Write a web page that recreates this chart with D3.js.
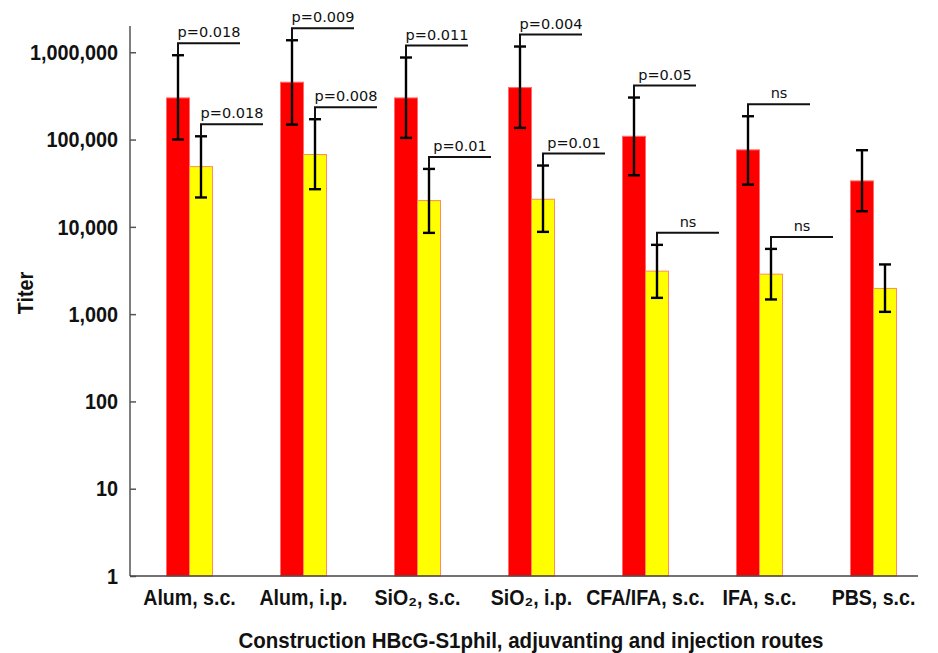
<!DOCTYPE html>
<html>
<head>
<meta charset="utf-8">
<script src="https://cdn.jsdelivr.net/npm/d3@7"></script>
<style>
  html, body { margin: 0; padding: 0; background: #fff; }
  svg { display: block; }
</style>
</head>
<body>
<svg id="chart" width="938" height="653"></svg>
<script>
// ---- data ----
const categories = ["Alum, s.c.", "Alum, i.p.", "SiO₂, s.c.", "SiO₂, i.p.", "CFA/IFA, s.c.", "IFA, s.c.", "PBS, s.c."];
const series = ["red", "yellow"];
const redValues    = [300000, 454000, 300000, 394000, 109000, 76200, 33600];
const redHigh      = [925000, 1373000, 871000, 1164000, 303000, 185000, 75500];
const redLow       = [100000, 148600, 104500, 136000, 39000, 30500, 15100];
const yellowValues = [49000, 67400, 20000, 20700, 3110, 2870, 1970];
const yellowHigh   = [109000, 171000, 46100, 50400, 6220, 5590, 3710];
const yellowLow    = [21700, 27000, 8530, 8760, 1537, 1473, 1062];
const redPLabels    = ["p=0.018", "p=0.009", "p=0.011", "p=0.004", "p=0.05", "ns", null];
const yellowPLabels = ["p=0.018", "p=0.008", "p=0.01", "p=0.01", "ns", "ns", null];
const yTicks = [1, 10, 100, 1000, 10000, 100000, 1000000];
const yTitle = "Titer";
const xTitle = "Construction HBcG-S1phil, adjuvanting and injection routes";

// ---- layout ----
const svg = d3.select("#chart");
const axisX = 130, axisBottom = 576, axisTop = 26, axisRight = 918;
const boldFont = "'Liberation Sans', Arial, sans-serif";

function condense(sel, k) {
  sel.each(function () {
    const w = this.getComputedTextLength();
    d3.select(this).attr("textLength", w * k).attr("lengthAdjust", "spacingAndGlyphs");
  });
}

const x = d3.scaleBand().domain(categories).range([132.5, 930.5]).padding(0);
const barW = 23;
const xs = d3.scaleBand().domain(series)
  .range([x.bandwidth() / 2 - barW, x.bandwidth() / 2 + barW]).padding(0);
const y = d3.scaleLog().domain([1, 2e6]).range([axisBottom, axisTop]);

const colors = { red: "#ff0000", yellow: "#ffff00" };
const strokes = { red: "#ff6a6a", yellow: "#ff8c5a" };

const rows = [];
categories.forEach((c, i) => {
  rows.push({ cat: c, s: "red", v: redValues[i], hi: redHigh[i], lo: redLow[i], p: redPLabels[i] });
  rows.push({ cat: c, s: "yellow", v: yellowValues[i], hi: yellowHigh[i], lo: yellowLow[i], p: yellowPLabels[i] });
});
const cx = d => x(d.cat) + xs(d.s) + xs.bandwidth() / 2;

// bars
svg.append("g").selectAll("rect").data(rows).join("rect")
  .attr("x", d => x(d.cat) + xs(d.s))
  .attr("width", xs.bandwidth())
  .attr("y", d => y(d.v))
  .attr("height", d => y(1) - y(d.v))
  .attr("fill", d => colors[d.s])
  .attr("stroke", d => strokes[d.s])
  .attr("stroke-width", 1);

// axes
const yAxis = d3.axisLeft(y).tickValues(yTicks).tickFormat(d3.format(",")).tickSize(-6).tickPadding(12);
const gy = svg.append("g").attr("transform", `translate(${axisX},0)`).call(yAxis);
gy.select(".domain").remove();
gy.selectAll(".tick line").attr("stroke", "#555").attr("stroke-width", 1.5);
gy.selectAll(".tick text")
  .attr("font-family", boldFont)
  .attr("font-weight", "bold").attr("font-size", 22.5).attr("fill", "#111")
  .call(condense, 0.88);

svg.append("line").attr("x1", axisX).attr("x2", axisX).attr("y1", axisTop).attr("y2", axisBottom)
  .attr("stroke", "#555").attr("stroke-width", 1.5);
svg.append("line").attr("x1", axisX).attr("x2", axisRight).attr("y1", axisBottom).attr("y2", axisBottom)
  .attr("stroke", "#444").attr("stroke-width", 1.5);

// x labels
svg.append("g").selectAll("text").data(categories).join("text")
  .attr("x", d => x(d) + x.bandwidth() / 2)
  .attr("y", 605)
  .attr("text-anchor", "middle")
  .attr("font-family", boldFont)
  .attr("font-weight", "bold").attr("font-size", 21.5).attr("fill", "#111")
  .text(d => d)
  .call(condense, 0.91);

// error bars
const eb = svg.append("g").attr("stroke", "#000").attr("stroke-width", 2.4).attr("fill", "none");
rows.forEach(d => {
  const c = cx(d);
  eb.append("line").attr("x1", c).attr("x2", c).attr("y1", y(d.hi)).attr("y2", y(d.lo));
  eb.append("line").attr("x1", c - 6).attr("x2", c + 6).attr("y1", y(d.hi)).attr("y2", y(d.hi));
  eb.append("line").attr("x1", c - 6).attr("x2", c + 6).attr("y1", y(d.lo)).attr("y2", y(d.lo));
});

// significance brackets
const br = svg.append("g");
rows.filter(d => d.p).forEach(d => {
  const c = cx(d);
  const top = y(d.hi);
  const hy = top - 12;
  br.append("path")
    .attr("d", `M${c},${top}V${hy}H${c + 62}`)
    .attr("fill", "none").attr("stroke", "#111").attr("stroke-width", 2);
  br.append("text")
    .attr("x", c + 31).attr("y", hy - 6)
    .attr("text-anchor", "middle")
    .attr("font-family", "'DejaVu Sans', sans-serif")
    .attr("font-size", 14.5).attr("fill", "#111")
    .text(d.p);
});

// titles
svg.append("text")
  .attr("transform", "translate(33,293) rotate(-90)")
  .attr("text-anchor", "middle")
  .attr("font-family", boldFont)
  .attr("font-weight", "bold").attr("font-size", 21.5).attr("fill", "#111")
  .text(yTitle)
  .call(condense, 0.92);

svg.append("text")
  .attr("x", 531).attr("y", 648)
  .attr("text-anchor", "middle")
  .attr("font-family", boldFont)
  .attr("font-weight", "bold").attr("font-size", 21.5).attr("fill", "#111")
  .text(xTitle)
  .attr("textLength", 585).attr("lengthAdjust", "spacingAndGlyphs");
</script>
</body>
</html>
